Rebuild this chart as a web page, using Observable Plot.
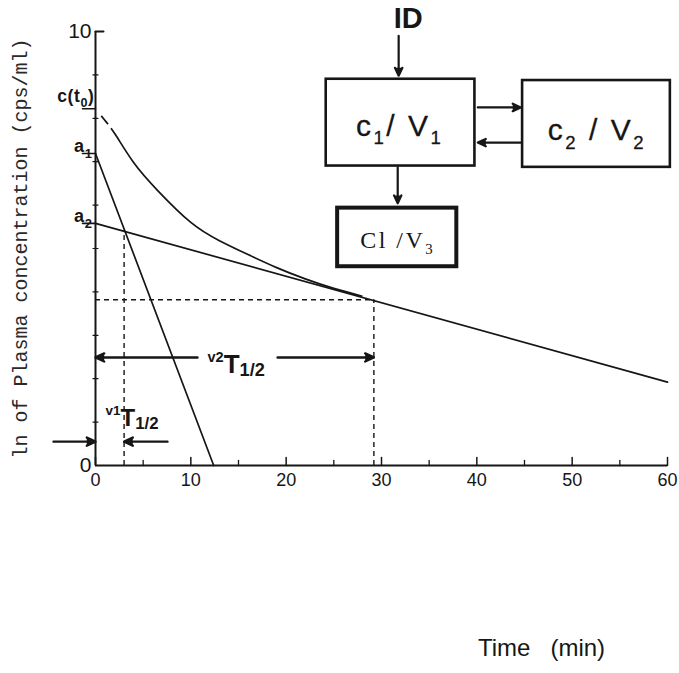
<!DOCTYPE html>
<html>
<head>
<meta charset="utf-8">
<script src="https://cdn.jsdelivr.net/npm/d3@7"></script>
<script src="https://cdn.jsdelivr.net/npm/@observablehq/plot@0.6"></script>
<style>
  html, body { margin: 0; padding: 0; background: #fff; }
  svg { display: block; }
</style>
</head>
<body>
<script>
// ---- Data ---------------------------------------------------------------

// Time axis (min)
const timeTicks = [0, 10, 20, 30, 40, 50, 60];
const timeMinorTicks = [5, 15, 25, 35, 45, 55];

// ln-concentration axis
const lnTicks = [0, 10];
const lnMinorTicks = [1, 2, 3, 4, 5, 6, 7, 8, 9];

// Intercepts read on the ln c axis
const levelNames = ["c(t_{0})", "a_{1}", "a_{2}"];
const levelValues = [8.22, 7.19, 5.58];

// Plasma curve after the injected dose (time in min, ln c);
// the first stretch is back-extrapolated to t0 and drawn dashed
const curveTime = [0, 1, 2.1, 4, 6.5, 10, 13, 16, 19, 22, 25, 28];
const curveLnC = [8.22, 7.95, 7.62, 6.98, 6.34, 5.6, 5.18, 4.86, 4.56, 4.3, 4.08, 3.9];

// The two exponential phases, straight in ln c
const fastPhaseTime = [0, 12.4];
const fastPhaseLnC = [7.19, 0];
const slowPhaseTime = [0, 60];
const slowPhaseLnC = [5.58, 1.92];

// Half-lives of the fast (v1) and slow (v2) phase, and the level where each is read
const halfLifeNames = ["^{v1}T_{1/2}", "^{v2}T_{1/2}"];
const halfLifeTime = [3.0, 29.2];
const halfLifeLnC = [5.42, 3.82];

// Compartment model
const compartmentNames = ["c_{1}/ V_{1}", "c_{2} / V_{2}", "Cl /V_{3}"];
const doseName = "ID";

// ---- Layout (in chart units: minutes × ln c) ---------------------------

const LAYOUT = {
  halfLifeArrowY: [0.55, 2.49],
  halfLifeArrowTail: [[-4.4, 7.55], [10.7, 19.1]],
  halfLifeLabel: [{x: 1.05, y: 0.92}, {x: 11.75, y: 2.14}],
  boxes: [
    {x1: 24.2, x2: 39.8, y1: 6.9, y2: 8.9},
    {x1: 44.8, x2: 60.3, y1: 6.87, y2: 8.87},
    {x1: 25.4, x2: 37.9, y1: 4.58, y2: 5.93}
  ],
  boxLabels: [
    {x: 31.9, y: 7.6},
    {x: 52.6, y: 7.49},
    {x: 31.7, y: 5.02}
  ],
  flows: [
    {x1: 31.8, y1: 9.9, x2: 31.8, y2: 8.98},   // dose into central compartment
    {x1: 40.1, y1: 8.25, x2: 44.6, y2: 8.25},  // central -> peripheral
    {x1: 44.6, y1: 7.44, x2: 40.1, y2: 7.44},  // peripheral -> central
    {x1: 31.7, y1: 6.87, x2: 31.7, y2: 6.04}   // elimination
  ],
  dose: {x: 32.8, y: 10.07}
};

// Sub/superscript sizes (ratio of font size) and shifts (em), per group of labels
const SCRIPT_STYLE = [
  {names: levelNames, sub: [0.72, 0.3], spacing: 0.6},
  {names: halfLifeNames, sup: [0.56, -0.42], sub: [0.7, 0.14]},
  {names: compartmentNames, sub: [0.62, 0.28], spacing: 2.5}
];

// ---- Rows ---------------------------------------------------------------

const levels = levelNames.map((name, i) => ({name, value: levelValues[i]}));
const curve = curveTime.map((t, i) => ({t, lnC: curveLnC[i]}));
const fastPhase = fastPhaseTime.map((t, i) => ({t, lnC: fastPhaseLnC[i]}));
const slowPhase = slowPhaseTime.map((t, i) => ({t, lnC: slowPhaseLnC[i]}));
const halfLives = halfLifeTime.map((t, i) => ({t, lnC: halfLifeLnC[i], name: halfLifeNames[i]}));

const halfLifeArrows = halfLives.flatMap((h, i) => [
  {x1: LAYOUT.halfLifeArrowTail[i][0], x2: 0, y: LAYOUT.halfLifeArrowY[i]},
  {x1: LAYOUT.halfLifeArrowTail[i][1], x2: h.t, y: LAYOUT.halfLifeArrowY[i]}
]);

const compartments = compartmentNames.map((name, i) => ({name, ...LAYOUT.boxLabels[i]}));

// A plain tick drawn by Plot.vector
const tickShape = {draw(context, l) { context.moveTo(0, 0); context.lineTo(0, -l); }};

const ink = "#161616";
const dash = "5,4";

const chart = Plot.plot({
  width: 679,
  height: 673,
  marginLeft: 95,
  marginRight: 12,
  marginTop: 31,
  marginBottom: 208,
  x: {domain: [0, 60]},
  y: {domain: [0, 10]},
  style: {fontFamily: "'Liberation Sans', Arial, sans-serif", color: ink, background: "#fff", overflow: "visible"},
  marks: [
    // half-life guides
    Plot.ruleX(halfLives, {x: "t", y1: 0, y2: "lnC", stroke: ink, strokeWidth: 1.4, strokeDasharray: dash}),
    Plot.ruleY(halfLives.slice(1), {y: "lnC", x1: 0, x2: "t", stroke: ink, strokeWidth: 1.4, strokeDasharray: dash}),

    // exponential phases
    Plot.line(fastPhase, {x: "t", y: "lnC", stroke: ink, strokeWidth: 1.7}),
    Plot.line(slowPhase, {x: "t", y: "lnC", stroke: ink, strokeWidth: 1.7}),

    // plasma curve: dashed near t0, solid afterwards
    Plot.line(curve, {x: "t", y: "lnC", stroke: ink, strokeWidth: 1.7, curve: "natural", strokeLinecap: "butt", strokeDasharray: "0,9,11,5,3000"}),

    // axes
    Plot.ruleX([0], {stroke: ink, strokeWidth: 2}),
    Plot.ruleY([0], {stroke: ink, strokeWidth: 2}),
    Plot.vector(timeTicks, {x: d => d, y: 0, length: 8, anchor: "start", shape: tickShape, stroke: ink, strokeWidth: 1.5}),
    Plot.vector(timeMinorTicks, {x: d => d, y: 0, length: 5, anchor: "start", shape: tickShape, stroke: ink, strokeWidth: 1.3}),
    Plot.vector(lnMinorTicks, {x: 0, y: d => d, length: 5, rotate: 90, anchor: "middle", shape: tickShape, stroke: ink, strokeWidth: 1.2}),
    Plot.vector([lnTicks[1]], {x: 0, y: d => d, length: 8, rotate: 90, anchor: "start", shape: tickShape, stroke: ink, strokeWidth: 2}),
    Plot.vector(levels, {x: 0, y: "value", length: 13, rotate: -90, anchor: "start", shape: tickShape, stroke: ink, strokeWidth: 1.6}),
    Plot.axisX({ticks: timeTicks, tickSize: 0, tickPadding: 8, fontSize: 18, label: null}),
    Plot.axisY({ticks: lnTicks, tickSize: 0, tickPadding: 4, fontSize: 21, label: null}),

    // intercept labels
    Plot.text(levels.slice(0, 1), {x: 0, y: "value", text: "name", textAnchor: "end", lineAnchor: "bottom", dx: -1, dy: -7, fontSize: 17.5, fontWeight: "bold", fill: ink}),
    Plot.text(levels.slice(1), {x: 0, y: "value", text: "name", textAnchor: "end", lineAnchor: "bottom", dx: -3, dy: -1, fontSize: 18, fontWeight: "bold", fill: ink}),

    // axis titles
    Plot.text(["ln of Plasma concentration (cps/ml)"], {frameAnchor: "left", textAnchor: "middle", rotate: -90, dx: -75, fontFamily: "'Liberation Mono', 'DejaVu Sans Mono', monospace", fontSize: 20, fill: "#2a2a2a"}),
    Plot.text(["Time\u00a0\u00a0 (min)"], {frameAnchor: "bottom", dx: 160, dy: 190, fontSize: 24, fill: ink}),

    // half-life spans
    Plot.arrow(halfLifeArrows, {x1: "x1", x2: "x2", y1: "y", y2: "y", stroke: ink, fill: ink, strokeWidth: 2.4, headLength: 6, headAngle: 50}),
    Plot.text(halfLives.slice(0, 1), {x: LAYOUT.halfLifeLabel[0].x, y: LAYOUT.halfLifeLabel[0].y, text: "name", textAnchor: "start", lineAnchor: "bottom", fontSize: 24, fontWeight: "bold", fill: ink}),
    Plot.text(halfLives.slice(1), {x: LAYOUT.halfLifeLabel[1].x, y: LAYOUT.halfLifeLabel[1].y, text: "name", textAnchor: "start", lineAnchor: "bottom", fontSize: 26, fontWeight: "bold", fill: ink}),

    // compartment diagram
    Plot.rect(LAYOUT.boxes.slice(0, 2), {x1: "x1", x2: "x2", y1: "y1", y2: "y2", fill: "#fff", stroke: ink, strokeWidth: 2.6}),
    Plot.rect(LAYOUT.boxes.slice(2), {x1: "x1", x2: "x2", y1: "y1", y2: "y2", fill: "#fff", stroke: ink, strokeWidth: 4}),
    Plot.arrow(LAYOUT.flows, {x1: "x1", y1: "y1", x2: "x2", y2: "y2", stroke: ink, fill: ink, strokeWidth: 2.2, headLength: 6, headAngle: 50}),
    Plot.text(compartments.slice(0, 2), {x: "x", y: "y", text: "name", lineAnchor: "bottom", fontSize: 30, fill: ink, stroke: ink, strokeWidth: 0.3}),
    Plot.text(compartments.slice(2), {x: "x", y: "y", text: "name", lineAnchor: "bottom", fontSize: 24, fontFamily: "'Liberation Serif', 'Times New Roman', serif", fill: ink}),
    Plot.text([doseName], {x: LAYOUT.dose.x, y: LAYOUT.dose.y, text: d => d, lineAnchor: "bottom", fontSize: 29, fontWeight: "bold", fill: ink})
  ]
});

document.body.appendChild(chart);

// Turn _{…} and ^{…} into lowered / raised tspans
function applyScripts(svg) {
  const ns = "http://www.w3.org/2000/svg";
  svg.querySelectorAll("text").forEach(text => {
    const source = text.textContent;
    const style = SCRIPT_STYLE.find(s => s.names.includes(source));
    if (!style) return;
    const base = parseFloat(getComputedStyle(text).fontSize);
    if (style.spacing) text.setAttribute("letter-spacing", style.spacing);
    text.textContent = "";
    let offset = 0;
    for (const m of source.matchAll(/([_^])\{([^}]*)\}|([^_^]+)/g)) {
      const span = document.createElementNS(ns, "tspan");
      let target = 0;
      if (m[1]) {
        const [ratio, shift] = style[m[1] === "_" ? "sub" : "sup"];
        span.setAttribute("font-size", ratio * base);
        target = shift * base;
        span.textContent = m[2];
      } else {
        span.textContent = m[3];
      }
      if (target !== offset) span.setAttribute("dy", target - offset);
      offset = target;
      text.appendChild(span);
    }
  });
}
applyScripts(chart);
</script>
</body>
</html>
